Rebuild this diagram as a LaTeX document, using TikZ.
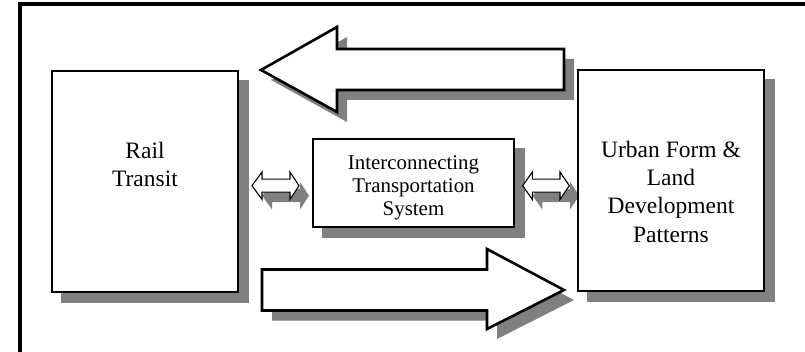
\documentclass[tikz,border=0pt]{standalone}
\usepackage{fontspec}
\setmainfont{Liberation Serif}
\pgfdeclarelayer{paper}
\pgfdeclarelayer{bg}
\pgfsetlayers{paper,bg,main}
\begin{document}
\begin{tikzpicture}[x=1pt,y=-1pt,
  boxnode/.style={draw=black, line width=2.4pt, fill=white, inner sep=0pt},
  bigarrow/.style={draw=black, line width=2.6pt, fill=white, line join=miter},
  smallarrow/.style={draw=black, line width=1.1pt, fill=white, line join=miter},
  dropshadow/.style={fill=black!50, draw=none},
  bigtext/.style={inner sep=0pt, align=center, font=\fontsize{23.5}{28.2}\selectfont},
  midtext/.style={inner sep=0pt, align=center, font=\fontsize{20.9}{23}\selectfont},
  toparrow/.style={insert path={(261,70) -- (337,27) -- (337,49) -- (564,49) -- (564,90) -- (337,90) -- (337,112) -- cycle}},
  botarrow/.style={insert path={(564,290) -- (487,249) -- (487,269.5) -- (262,269.5) -- (262,310.5) -- (487,310.5) -- (487,329) -- cycle}},
  leftdbl/.style={insert path={(252,185.7) -- (262,172) -- (262,179.2) -- (290,179.2) -- (290,172) -- (299,185.7) -- (290,199.4) -- (290,192.2) -- (262,192.2) -- (262,199.4) -- cycle}},
  rightdbl/.style={insert path={(522.7,185.7) -- (532.3,172) -- (532.3,179.2) -- (560,179.2) -- (560,172) -- (569.3,185.7) -- (560,199.4) -- (560,192.2) -- (532.3,192.2) -- (532.3,199.4) -- cycle}}
]
\useasboundingbox (0,0) rectangle (805,352);
\begin{pgfonlayer}{paper}
  \fill[white] (0,0) rectangle (805,352);
\end{pgfonlayer}

% boxes
\node[boxnode, minimum width=186pt, minimum height=221pt] (rail) at (145,181.5) {};
\node[boxnode, minimum width=186pt, minimum height=221pt] (urban) at (671,180.5) {};
\node[boxnode, minimum width=201pt, minimum height=88pt] (mid) at (413.5,183) {};

% labels
\node[bigtext, anchor=north] (railtext) at (145,142) {Rail\\Transit};
\node[bigtext, anchor=north] (urbantext) at (671,141) {Urban Form \&\\Land\\Development\\Patterns};
\node[midtext, anchor=north] (midtextnode) at (413.5,155.7) {Interconnecting\\Transportation\\System};

% block arrows
\draw[bigarrow, toparrow];
\draw[bigarrow, botarrow];
\draw[smallarrow, leftdbl];
\draw[smallarrow, rightdbl];

% shadows
\begin{pgfonlayer}{bg}
  \fill[dropshadow] ([shift={(10,10)}]rail.north west) rectangle ([shift={(10,10)}]rail.south east);
  \fill[dropshadow] ([shift={(10,10)}]urban.north west) rectangle ([shift={(10,10)}]urban.south east);
  \fill[dropshadow] ([shift={(10,10)}]mid.north west) rectangle ([shift={(10,10)}]mid.south east);
  \fill[dropshadow, shift={(10,10)}, toparrow];
  \fill[dropshadow, shift={(10,10)}, botarrow];
  \fill[dropshadow, shift={(10,10)}, leftdbl];
  \fill[dropshadow, shift={(10,10)}, rightdbl];
\end{pgfonlayer}

% outer frame
\begin{scope}
  \clip (0,0) rectangle (805,352);
  \draw[line width=3.5pt] (20,4) rectangle (830,380);
\end{scope}
\end{tikzpicture}
\end{document}
